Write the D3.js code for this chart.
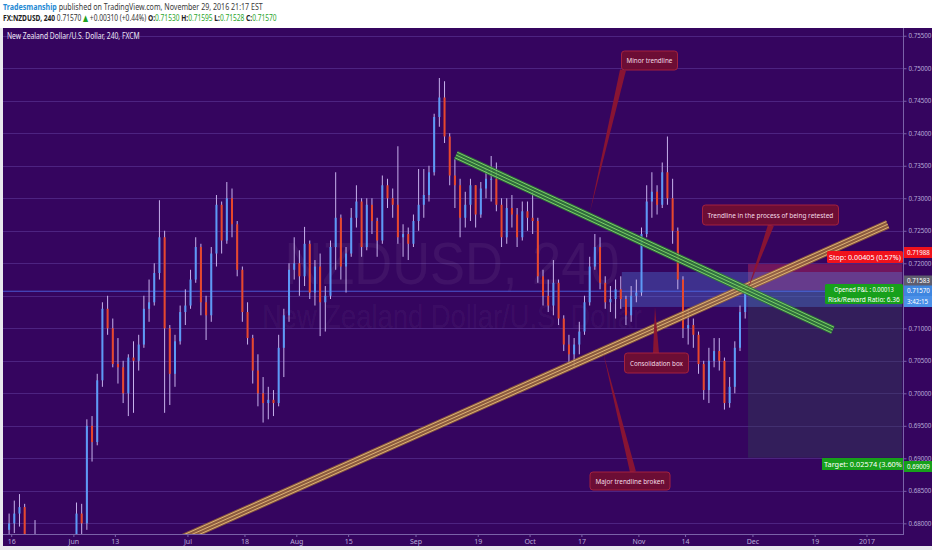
<!DOCTYPE html>
<html><head><meta charset="utf-8">
<script src="https://cdn.jsdelivr.net/npm/d3@7/dist/d3.min.js"></script>
<style>body{margin:0;background:#ececf0;overflow:hidden} svg{display:block}</style>
</head><body><svg id="c" width="932" height="550"></svg>
<script>
// ---------------- DATA ----------------
const startDate = "2016-05-13"; // first (partially visible) trading day, daily OHLC
const opens = [0.6790,0.6800,0.6815,0.6825,0.6750,0.6740,0.6765,0.6755,0.6770,0.6750,0.6760,0.6705,0.6700,0.6765,0.6815,0.6800,0.6950,0.6925,0.7020,0.7130,0.7100,0.7045,0.7040,0.7000,0.7055,0.7050,0.7075,0.7130,0.7140,0.7185,0.7240,0.7100,0.7030,0.7080,0.7125,0.7135,0.7175,0.7225,0.7140,0.7120,0.7215,0.7290,0.7235,0.7300,0.7260,0.7190,0.7125,0.7085,0.7035,0.7000,0.6985,0.6990,0.6985,0.7070,0.7120,0.7190,0.7200,0.7180,0.7230,0.7155,0.7195,0.7140,0.7150,0.7225,0.7270,0.7195,0.7215,0.7270,0.7295,0.7225,0.7290,0.7265,0.7235,0.7320,0.7300,0.7290,0.7240,0.7245,0.7230,0.7265,0.7290,0.7305,0.7340,0.7425,0.7455,0.7395,0.7335,0.7320,0.7270,0.7290,0.7320,0.7275,0.7315,0.7330,0.7330,0.7290,0.7240,0.7285,0.7275,0.7240,0.7280,0.7270,0.7265,0.7180,0.7150,0.7135,0.7170,0.7115,0.7075,0.7060,0.7075,0.7095,0.7140,0.7195,0.7225,0.7170,0.7140,0.7145,0.7160,0.7145,0.7120,0.7150,0.7155,0.7245,0.7295,0.7310,0.7290,0.7340,0.7300,0.7250,0.7175,0.7100,0.7105,0.7090,0.7045,0.7005,0.7050,0.7065,0.7050,0.6985,0.7010,0.7070,0.7125];
const highs = [0.6815,0.6835,0.6845,0.6830,0.6775,0.6805,0.6780,0.6780,0.6775,0.6775,0.6765,0.6710,0.6775,0.6832,0.6830,0.6960,0.6965,0.7030,0.7140,0.7150,0.7115,0.7085,0.7050,0.7060,0.7080,0.7090,0.7150,0.7175,0.7200,0.7297,0.7250,0.7105,0.7090,0.7135,0.7160,0.7190,0.7240,0.7230,0.7150,0.7225,0.7305,0.7295,0.7325,0.7315,0.7265,0.7195,0.7140,0.7090,0.7060,0.7025,0.7010,0.7005,0.7090,0.7130,0.7200,0.7240,0.7220,0.7256,0.7235,0.7205,0.7215,0.7165,0.7235,0.7340,0.7275,0.7225,0.7285,0.7320,0.7300,0.7300,0.7300,0.7270,0.7335,0.7330,0.7315,0.7380,0.7260,0.7255,0.7275,0.7345,0.7345,0.7350,0.7430,0.7485,0.7480,0.7400,0.7360,0.7330,0.7310,0.7330,0.7320,0.7325,0.7345,0.7365,0.7355,0.7300,0.7300,0.7305,0.7285,0.7295,0.7295,0.7310,0.7270,0.7190,0.7175,0.7205,0.7175,0.7120,0.7090,0.7085,0.7110,0.7150,0.7210,0.7245,0.7240,0.7180,0.7165,0.7175,0.7180,0.7150,0.7165,0.7175,0.7255,0.7320,0.7340,0.7320,0.7355,0.7395,0.7330,0.7255,0.7180,0.7130,0.7115,0.7095,0.7050,0.7070,0.7085,0.7085,0.7055,0.7025,0.7080,0.7135,0.71595];
const lows = [0.6770,0.6785,0.6795,0.6740,0.6715,0.6735,0.6740,0.6730,0.6725,0.6730,0.6695,0.6676,0.6690,0.6760,0.6775,0.6790,0.6895,0.6920,0.7010,0.7090,0.7040,0.7015,0.6985,0.6965,0.6970,0.7035,0.7070,0.7110,0.7135,0.7175,0.6970,0.6982,0.7010,0.7075,0.7105,0.7130,0.7170,0.7120,0.7082,0.7110,0.7195,0.7215,0.7230,0.7240,0.7180,0.7110,0.7075,0.7015,0.6980,0.6955,0.6960,0.6965,0.6980,0.7025,0.7110,0.7175,0.7150,0.7165,0.7145,0.7135,0.7088,0.7095,0.7145,0.7190,0.7175,0.7155,0.7210,0.7255,0.7210,0.7220,0.7245,0.7210,0.7230,0.7285,0.7270,0.7230,0.7210,0.7205,0.7225,0.7250,0.7270,0.7295,0.7335,0.7410,0.7385,0.7320,0.7285,0.7240,0.7255,0.7265,0.7255,0.7270,0.7300,0.7295,0.7280,0.7225,0.7230,0.7255,0.7225,0.7235,0.7250,0.7245,0.7170,0.7135,0.7125,0.7120,0.7105,0.7065,0.7045,0.7040,0.7060,0.7090,0.7135,0.7190,0.7160,0.7130,0.7125,0.7115,0.7130,0.7105,0.7110,0.7140,0.7150,0.7240,0.7270,0.7275,0.7285,0.7290,0.7230,0.7160,0.7085,0.7075,0.7070,0.7030,0.6990,0.6985,0.7040,0.7035,0.6975,0.6978,0.7000,0.7065,0.7115];
const closes = [0.6800,0.6815,0.6825,0.6750,0.6740,0.6765,0.6755,0.6770,0.6750,0.6760,0.6705,0.6700,0.6765,0.6815,0.6800,0.6950,0.6925,0.7020,0.7130,0.7100,0.7045,0.7040,0.7000,0.7055,0.7050,0.7075,0.7130,0.7140,0.7185,0.7240,0.7100,0.7030,0.7080,0.7125,0.7135,0.7175,0.7225,0.7140,0.7120,0.7215,0.7290,0.7235,0.7300,0.7260,0.7190,0.7125,0.7085,0.7035,0.7000,0.6985,0.6990,0.6985,0.7070,0.7120,0.7190,0.7200,0.7180,0.7230,0.7155,0.7195,0.7140,0.7150,0.7225,0.7270,0.7195,0.7215,0.7270,0.7295,0.7225,0.7290,0.7265,0.7235,0.7320,0.7300,0.7290,0.7240,0.7245,0.7230,0.7265,0.7290,0.7305,0.7340,0.7425,0.7455,0.7395,0.7335,0.7320,0.7270,0.7290,0.7320,0.7275,0.7315,0.7330,0.7330,0.7290,0.7240,0.7285,0.7275,0.7240,0.7280,0.7270,0.7265,0.7180,0.7150,0.7135,0.7170,0.7115,0.7075,0.7060,0.7075,0.7095,0.7140,0.7195,0.7225,0.7170,0.7140,0.7145,0.7160,0.7145,0.7120,0.7150,0.7155,0.7245,0.7295,0.7310,0.7290,0.7340,0.7300,0.7250,0.7175,0.7100,0.7105,0.7090,0.7045,0.7005,0.7050,0.7065,0.7050,0.6985,0.7010,0.7070,0.7125,0.7157];

const priceTicks = [0.680,0.685,0.690,0.695,0.700,0.705,0.710,0.715,0.720,0.725,0.730,0.735,0.740,0.745,0.750,0.755];
const hiddenPriceLabels = [0.715]; // covered by the price tags in the reference
const timeTickDates  = ["2016-05-16","2016-06-01","2016-06-13","2016-07-01","2016-07-18","2016-08-01","2016-08-15","2016-09-01","2016-09-19","2016-10-03","2016-10-17","2016-11-01","2016-11-14","2016-12-01","2016-12-19","2017-01-02"];
const timeTickLabels = ["16","Jun","13","Jul","18","Aug","15","Sep","19","Oct","17","Nov","14","Dec","19","2017"];

// trend lines: [trading-day index from 2016-05-16, price]
const minorTrend = [[85.7, 0.73666],[158.4, 0.70974]];
const majorTrend = [[30.0, 0.67660],[169.0, 0.72600]];
const consolidationBox = {from: 117.7, to: 171.8, low: 0.71328, high: 0.71866};
const position = {from: 142.05, to: 171.8, entry: 0.71583, stop: 0.71988, target: 0.69009};
const lastPrice = 0.71570;

const annotTexts = ["Minor trendline","Trendline in the process of being retested","Consolidation box","Major trendline broken"];
const annotTips = [[111.56, 0.72789],[142.05, 0.71605],[124.1, 0.71328],[114.07, 0.70636]];

// ---------------- LAYOUT ----------------
const W = 932, H = 550;
const plot = {l: 3, r: 903, t: 28, b: 534};
const svg = d3.select("#c");
const FONT = "'Noto Sans', 'DejaVu Sans', sans-serif";
const BG = "#35055f";

function tradingIndex(str) {
  const base = new Date("2016-05-16T00:00:00Z");
  const d = new Date(str + "T00:00:00Z");
  let n = 0, cur = new Date(base);
  const step = d >= base ? 1 : -1;
  while ((step > 0 && cur < d) || (step < 0 && cur > d)) {
    cur.setUTCDate(cur.getUTCDate() + step);
    const wd = cur.getUTCDay();
    if (wd !== 0 && wd !== 6) n += step;
  }
  return n;
}
const candleIdx = [];
{
  let cur = new Date(startDate + "T00:00:00Z");
  for (let i = 0; i < closes.length; i++) {
    while (cur.getUTCDay() === 0 || cur.getUTCDay() === 6) cur.setUTCDate(cur.getUTCDate() + 1);
    candleIdx.push(tradingIndex(cur.toISOString().slice(0, 10)));
    cur.setUTCDate(cur.getUTCDate() + 1);
  }
}

const x = d3.scaleLinear().domain([0, 165]).range([11.7, 867]);
const y = d3.scaleLinear().domain([0.67836, 0.75619]).range([plot.b, plot.t]);

// page background + panel
svg.append("rect").attr("width", W).attr("height", H).attr("fill", "#ffffff");
svg.append("rect").attr("x", 0).attr("y", plot.t).attr("width", W).attr("height", H - plot.t).attr("fill", "#e9e9ee");
svg.append("rect").attr("x", plot.l).attr("y", plot.t).attr("width", W - plot.l).attr("height", 546 - plot.t).attr("fill", BG);

svg.append("defs").append("clipPath").attr("id", "clip")
  .append("rect").attr("x", plot.l).attr("y", plot.t).attr("width", plot.r - plot.l).attr("height", plot.b - plot.t);

// grid
const grid = svg.append("g");
grid.selectAll("line").data(priceTicks).join("line")
  .attr("x1", plot.l).attr("x2", plot.r)
  .attr("y1", d => Math.round(y(d)) + 0.5).attr("y2", d => Math.round(y(d)) + 0.5)
  .attr("stroke", "#4d2381").attr("stroke-width", 1);

// helper: fit a text element to a width by horizontal scaling
function fitText(sel, x0, y0, width, anchor) {
  const n = sel.node();
  const w0 = n.getComputedTextLength();
  const s = width / w0;
  const ox = anchor === "middle" ? x0 - width / 2 : x0;
  sel.attr("x", 0).attr("y", 0).attr("text-anchor", "start")
    .attr("transform", `translate(${ox},${y0}) scale(${s},1)`);
}

// watermark
const wm = svg.append("g").attr("fill", "rgba(255,255,255,0.055)").attr("font-family", "'Liberation Sans', Arial, sans-serif");
fitText(wm.append("text").attr("font-size", 60).text("NZDUSD, 240"), 452, 284, 335, "middle");
fitText(wm.append("text").attr("font-size", 33).text("New Zealand Dollar/U.S. Dollar"), 452, 328, 380, "middle");

const g = svg.append("g").attr("clip-path", "url(#clip)");

// consolidation box & position tool
g.append("rect").attr("x", x(position.from)).attr("width", x(position.to) - x(position.from))
  .attr("y", y(position.stop)).attr("height", y(position.entry) - y(position.stop))
  .attr("fill", "rgba(240,60,90,0.32)");
g.append("rect").attr("x", x(position.from)).attr("width", x(position.to) - x(position.from))
  .attr("y", y(position.entry)).attr("height", y(position.target) - y(position.entry))
  .attr("fill", "rgba(50,72,85,0.38)");
g.append("rect").attr("x", x(consolidationBox.from)).attr("width", x(consolidationBox.to) - x(consolidationBox.from))
  .attr("y", y(consolidationBox.high)).attr("height", y(consolidationBox.low) - y(consolidationBox.high))
  .attr("fill", "rgba(80,140,240,0.32)");

// last price line
g.append("line").attr("x1", plot.l).attr("x2", plot.r).attr("y1", y(lastPrice)).attr("y2", y(lastPrice))
  .attr("stroke", "#4f6ff0").attr("stroke-width", 1).attr("opacity", 0.8);

// candles
const candles = d3.range(closes.length).map(i => ({d: candleIdx[i], o: opens[i], h: highs[i], l: lows[i], c: closes[i]}));
const cg = g.append("g");
cg.selectAll("line.wick").data(candles).join("line").attr("class", "wick")
  .attr("x1", d => x(d.d + 0.5)).attr("x2", d => x(d.d + 0.5))
  .attr("y1", d => y(d.h)).attr("y2", d => y(d.l))
  .attr("stroke", "#c6b2ec").attr("stroke-width", 1);
cg.selectAll("rect.body").data(candles).join("rect").attr("class", "body")
  .attr("x", d => x(d.d + 0.5) - 1).attr("width", 2)
  .attr("y", d => y(Math.max(d.o, d.c)))
  .attr("height", d => Math.max(1, Math.abs(y(d.o) - y(d.c))))
  .attr("fill", d => d.c >= d.o ? "#5d9af6" : "#e8472b");

// trend bands
function band(pts, fill, lineCol) {
  const [a, b] = pts;
  const x1 = x(a[0]), y1 = y(a[1]), x2 = x(b[0]), y2 = y(b[1]);
  const len = Math.hypot(x2 - x1, y2 - y1);
  const nx = -(y2 - y1) / len, ny = (x2 - x1) / len;
  const bg = g.append("g");
  bg.append("line").attr("x1", x1).attr("y1", y1).attr("x2", x2).attr("y2", y2)
    .attr("stroke", fill).attr("stroke-width", 9).attr("opacity", 0.85);
  [-3, 0, 3].forEach(o => {
    bg.append("line").attr("x1", x1 + nx * o).attr("y1", y1 + ny * o).attr("x2", x2 + nx * o).attr("y2", y2 + ny * o)
      .attr("stroke", lineCol).attr("stroke-width", 1).attr("opacity", 0.9);
  });
}
band(majorTrend, "#9c6a3a", "#e6bb7c");
band(minorTrend, "#2f7f36", "#86d86e");

// annotations
const annotLayout = [
  {cx: 649.5, cy: 60.5, w: 56, h: 19, tw: 46, base: [623, 70]},
  {cx: 770.5, cy: 215, w: 136, h: 20, tw: 126, base: [771, 225]},
  {cx: 656.5, cy: 363, w: 64, h: 20, tw: 53, base: [656, 353]},
  {cx: 630, cy: 481, w: 80, h: 18, tw: 69, base: [633, 472]}
];
const ag = svg.append("g").attr("font-family", FONT);
annotTexts.forEach((t, i) => {
  const L = annotLayout[i], tip = annotTips[i];
  const tx = x(tip[0]), ty = y(tip[1]);
  const [bx, by] = L.base;
  const dx = tx - bx, dy = ty - by, len = Math.hypot(dx, dy);
  const px = -dy / len * 3, py = dx / len * 3;
  ag.append("path").attr("d", `M${bx + px},${by + py}L${tx},${ty}L${bx - px},${by - py}Z`)
    .attr("fill", "#8d1530").attr("opacity", 0.95);
  ag.append("rect").attr("x", L.cx - L.w / 2).attr("y", L.cy - L.h / 2).attr("width", L.w).attr("height", L.h)
    .attr("rx", 3).attr("fill", "#6c0d35").attr("stroke", "#a3203f").attr("stroke-width", 1);
  fitText(ag.append("text").attr("font-size", 7.5).attr("fill", "#f4dce6").text(t), L.cx, L.cy + 2.6, L.tw, "middle");
});

// position labels
function labelBox(x0, y0, w, h, fill, lines, fs, tw) {
  const lg = svg.append("g").attr("font-family", FONT);
  lg.append("rect").attr("x", x0).attr("y", y0).attr("width", w).attr("height", h).attr("fill", fill).attr("rx", 1.5);
  lines.forEach((t, i) => {
    fitText(lg.append("text").attr("font-size", fs).attr("fill", "#ffffff").text(t),
      x0 + w / 2, y0 + (h / lines.length) * (i + 0.5) + fs * 0.35, tw[i], "middle");
  });
}
labelBox(827, 251, 76, 12, "#f0121c", ["Stop: " + (position.stop - position.entry).toFixed(5) + " (0.57%)"], 8, [72]);
labelBox(825, 284, 78, 20, "#17a01b", ["Opened P&L : 0.00013", "Risk/Reward Ratio: 6.36"], 8, [60, 72]);
const tgtClip = svg.append("defs").append("clipPath").attr("id", "tclip");
tgtClip.append("rect").attr("x", 0).attr("y", 0).attr("width", plot.r).attr("height", H);
const tl = svg.append("g").attr("clip-path", "url(#tclip)").attr("font-family", FONT);
tl.append("rect").attr("x", 822).attr("y", 458).attr("width", 81).attr("height", 12).attr("fill", "#17a01b");
fitText(tl.append("text").attr("font-size", 8).attr("fill", "#fff").text("Target: " + (position.entry - position.target).toFixed(5) + " (3.60%"),
  824, 466.8, 78, "start");

// right price axis
const ax = svg.append("g").attr("font-family", FONT);
ax.append("rect").attr("x", plot.r).attr("y", plot.t).attr("width", W - plot.r).attr("height", 546 - plot.t).attr("fill", BG);
ax.append("line").attr("x1", plot.r + 0.5).attr("x2", plot.r + 0.5).attr("y1", plot.t).attr("y2", plot.b)
  .attr("stroke", "#7a62a8").attr("stroke-width", 1);
const yAxis = d3.axisRight(y).tickValues(priceTicks).tickSize(3).tickPadding(2)
  .tickFormat(d => hiddenPriceLabels.includes(d) ? "" : d3.format(".5f")(d));
const yg = ax.append("g").attr("transform", `translate(${plot.r + 0.5},0)`).call(yAxis);
yg.select(".domain").remove();
yg.selectAll("line").attr("stroke", "#7a62a8");
yg.selectAll("text").attr("fill", "#b8abd8").attr("font-size", 6.2).attr("font-family", FONT);
yg.selectAll("text").filter(function () { return this.textContent === ""; }).remove();

function axisTag(cy, fill, txt) {
  ax.append("rect").attr("x", plot.r + 1).attr("y", cy - 5.5).attr("width", 28).attr("height", 11).attr("fill", fill);
  ax.append("text").attr("x", plot.r + 4).attr("y", cy + 2.3).attr("font-size", 6.2).attr("fill", "#ffffff").text(txt);
}
axisTag(252.5, "#f0121c", position.stop.toFixed(5));
axisTag(281, "#5e5d6e", position.entry.toFixed(5));
axisTag(291, "#3f86e0", lastPrice.toFixed(5));
axisTag(301.5, "#4a90e8", "3:42:15");
axisTag(466.5, "#17a01b", position.target.toFixed(5));

// bottom time axis
ax.append("line").attr("x1", plot.l).attr("x2", plot.r + 1).attr("y1", plot.b + 0.5).attr("y2", plot.b + 0.5)
  .attr("stroke", "#7a62a8").attr("stroke-width", 1);
const tg = ax.append("g");
timeTickDates.forEach((dstr, i) => {
  const xx = x(tradingIndex(dstr));
  tg.append("line").attr("x1", xx).attr("x2", xx).attr("y1", plot.b).attr("y2", plot.b + 3).attr("stroke", "#7a62a8");
  tg.append("text").attr("x", xx).attr("y", 543.5).attr("text-anchor", "middle").attr("font-size", 7)
    .attr("fill", "#b8abd8").text(timeTickLabels[i]);
});

// chart title
fitText(svg.append("text").attr("font-family", FONT).attr("font-size", 8.5).attr("fill", "#ece4f4")
  .text("New Zealand Dollar/U.S. Dollar, 240, FXCM"), 7, 39, 133, "start");

// header
const h1 = svg.append("text").attr("font-family", FONT).attr("font-size", 9);
h1.append("tspan").attr("fill", "#1f8ad4").attr("font-weight", "bold").text("Tradesmanship");
h1.append("tspan").attr("fill", "#3a3a3a").text(" published on TradingView.com, November 29, 2016 21:17 EST");
fitText(h1, 3, 10, 260, "start");
const h2 = svg.append("text").attr("font-family", FONT).attr("font-size", 9);
h2.append("tspan").attr("fill", "#222").attr("font-weight", "bold").text("FX:NZDUSD, 240 ");
h2.append("tspan").attr("fill", "#333").text(" 0.71570 ");
h2.append("tspan").attr("fill", "#22a022").text("▲");
h2.append("tspan").attr("fill", "#333").text(" +0.00310 (+0.44%) ");
[["O:", "0.71530"], ["H:", "0.71595"], ["L:", "0.71528"], ["C:", "0.71570"]].forEach(([k, v]) => {
  h2.append("tspan").attr("fill", "#222").attr("font-weight", "bold").text(" " + k);
  h2.append("tspan").attr("fill", "#2aa52a").text(v);
});
fitText(h2, 3, 20.5, 274, "start");
</script></body></html>
